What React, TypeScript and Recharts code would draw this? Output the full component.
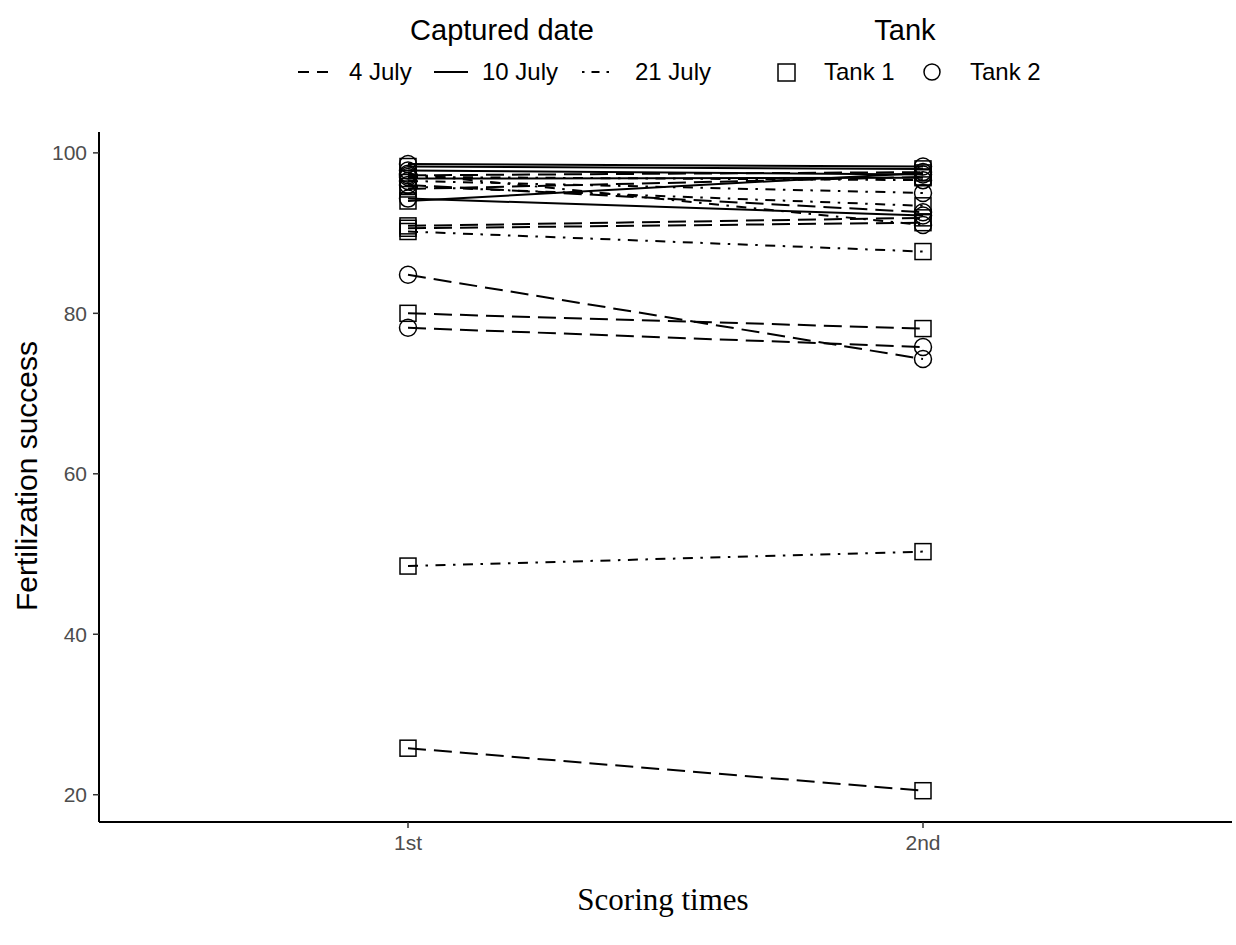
import React from 'react';
import { LineChart, Line, XAxis, YAxis } from 'recharts';

if (typeof document !== 'undefined') document.body.style.margin = '0';

// scoring times (x categories)
const scoringTimes = ['1st', '2nd'];
const yTicks = [20, 40, 60, 80, 100];

// one entry per female: captured date, tank, score at 1st and 2nd counting
const capturedDate = [
  '4 July', '4 July', '4 July', '4 July', '4 July', '4 July', '4 July', '4 July', '4 July',
  '10 July', '10 July', '10 July', '10 July', '10 July', '10 July',
  '21 July', '21 July', '21 July', '21 July', '21 July', '21 July',
];
const tank = [
  'Tank 2', 'Tank 1', 'Tank 2', 'Tank 1', 'Tank 1', 'Tank 1', 'Tank 2', 'Tank 2', 'Tank 1',
  'Tank 1', 'Tank 2', 'Tank 1', 'Tank 2', 'Tank 1', 'Tank 2',
  'Tank 1', 'Tank 1', 'Tank 2', 'Tank 2', 'Tank 1', 'Tank 2',
];
const firstScore = [
  84.8, 80.0, 78.2, 25.8, 90.6, 90.9, 97.2, 96.0, 95.5,
  98.3, 97.8, 96.8, 94.3, 94.0, 98.6,
  48.5, 90.2, 97.0, 96.5, 95.8, 97.4,
];
const secondScore = [
  74.3, 78.1, 75.8, 20.5, 91.3, 91.9, 97.6, 92.6, 97.0,
  98.0, 97.3, 96.9, 92.2, 97.5, 98.3,
  50.3, 87.7, 96.6, 95.0, 93.4, 91.0,
];

const dateDash: Record<string, string | undefined> = {
  '4 July': '18 8',
  '10 July': undefined,
  '21 July': '10 7.5 2.5 7.5',
};

const data = [
  Object.fromEntries([['t', 1], ...firstScore.map((v, i) => [`s${i}`, v])]),
  Object.fromEntries([['t', 2], ...secondScore.map((v, i) => [`s${i}`, v])]),
];

const font = '"Liberation Sans", Arial, sans-serif';

function makeDot(shape: string) {
  // eslint-disable-next-line @typescript-eslint/no-explicit-any
  return (props: any) => {
    const { cx, cy, key } = props;
    if (cx == null || cy == null) return <g key={key} />;
    return shape === 'Tank 1' ? (
      <rect key={key} x={cx - 8} y={cy - 8} width={16} height={16} fill="none" stroke="#000" strokeWidth={1.5} />
    ) : (
      <circle key={key} cx={cx} cy={cy} r={8.5} fill="none" stroke="#000" strokeWidth={1.5} />
    );
  };
}

function Legend() {
  const item = { position: 'absolute' as const, top: 72, fontSize: 24, color: '#000', transform: 'translateY(-50%)' };
  const title = { position: 'absolute' as const, top: 30, fontSize: 29, transform: 'translate(-50%, -50%)', whiteSpace: 'nowrap' as const };
  return (
    <>
      <div style={{ ...title, left: 502 }}>Captured date</div>
      <div style={{ ...title, left: 905 }}>Tank</div>
      <svg style={{ position: 'absolute', left: 0, top: 60 }} width={1236} height={24}>
        <line x1={298} x2={330} y1={12} y2={12} stroke="#000" strokeWidth={2.2} strokeDasharray="11 8" />
        <line x1={434} x2={468} y1={12} y2={12} stroke="#000" strokeWidth={2.2} />
        <line x1={582} x2={614} y1={12} y2={12} stroke="#000" strokeWidth={2.2} strokeDasharray="2.5 7 8 7" />
        <rect x={778} y={4} width={17} height={17} fill="none" stroke="#000" strokeWidth={1.5} />
        <circle cx={932} cy={12} r={8} fill="none" stroke="#000" strokeWidth={1.5} />
      </svg>
      <div style={{ ...item, left: 349 }}>4 July</div>
      <div style={{ ...item, left: 482 }}>10 July</div>
      <div style={{ ...item, left: 635 }}>21 July</div>
      <div style={{ ...item, left: 824 }}>Tank 1</div>
      <div style={{ ...item, left: 970 }}>Tank 2</div>
    </>
  );
}

export default function App() {
  return (
    <div style={{ position: 'relative', width: 1236, height: 945, background: '#fff', fontFamily: font }}>
      <Legend />
      <LineChart
        width={1236}
        height={945}
        data={data}
        margin={{ top: 132, right: 4, bottom: 0, left: 0 }}
      >
        <XAxis
          dataKey="t"
          type="number"
          domain={[0.4, 2.6]}
          ticks={[1, 2]}
          tickFormatter={(v) => scoringTimes[v - 1]}
          allowDataOverflow
          height={123}
          axisLine={{ stroke: '#000', strokeWidth: 2 }}
          tickLine={{ stroke: '#333', strokeWidth: 1.5 }}
          tickSize={6}
          tickMargin={7}
          tick={{ fill: '#4d4d4d', fontSize: 21, fontFamily: font }}
        />
        <YAxis
          type="number"
          domain={[16.6, 102.6]}
          ticks={yTicks}
          allowDataOverflow
          width={99}
          axisLine={{ stroke: '#000', strokeWidth: 2 }}
          tickLine={{ stroke: '#333', strokeWidth: 1.5 }}
          tickSize={6}
          tickMargin={6}
          tick={{ fill: '#4d4d4d', fontSize: 21, fontFamily: font }}
        />
        {firstScore.map((_, i) => (
          <Line
            key={i}
            type="linear"
            dataKey={`s${i}`}
            stroke="#000"
            strokeWidth={2}
            strokeDasharray={dateDash[capturedDate[i]]}
            dot={makeDot(tank[i])}
            activeDot={false}
            isAnimationActive={false}
            legendType="none"
          />
        ))}
      </LineChart>
      <div
        style={{
          position: 'absolute', left: 27, top: 476, fontSize: 30,
          transform: 'translate(-50%, -50%) rotate(-90deg)', whiteSpace: 'nowrap',
        }}
      >
        Fertilization success
      </div>
      <div
        style={{
          position: 'absolute', left: 663, top: 900, fontSize: 31,
          transform: 'translate(-50%, -50%)', whiteSpace: 'nowrap',
          fontFamily: '"Liberation Serif", "Times New Roman", serif',
        }}
      >
        Scoring times
      </div>
    </div>
  );
}
